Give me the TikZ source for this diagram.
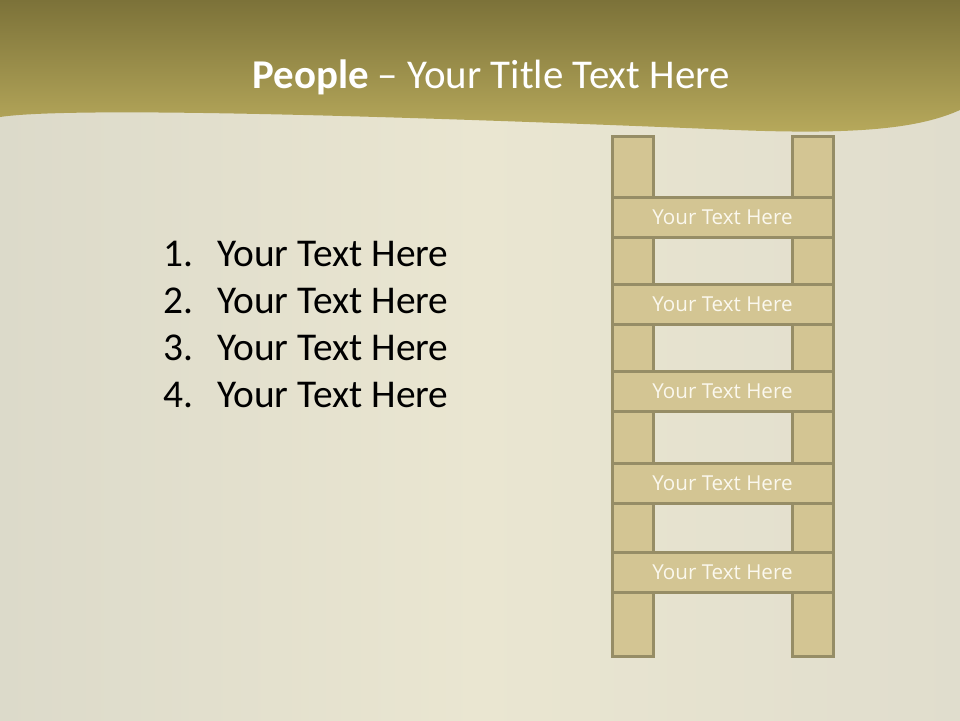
\documentclass[tikz,border=0pt]{standalone}
\usepackage{fontspec}
\setmainfont{Carlito}
\newfontfamily\rungfont{Open Sans}
\definecolor{bgmid}{HTML}{EAE6D1}
\definecolor{bgleft}{HTML}{DCDACA}
\definecolor{bgright}{HTML}{E0DDCD}
\definecolor{hdtop}{HTML}{7C7239}
\definecolor{hdbot}{HTML}{B8AA5C}
\definecolor{ladfill}{HTML}{D3C593}
\definecolor{ladline}{HTML}{968D66}
\definecolor{rungtext}{HTML}{FBF8EE}
\tikzset{
  rail/.style={draw=ladline, fill=ladfill, line width=3pt, minimum width=41pt, minimum height=520pt, inner sep=0pt},
  rung/.style={draw=ladline, fill=ladfill, line width=3pt, minimum width=221pt, minimum height=40pt, inner sep=0pt,
    text=rungtext, font=\rungfont\fontsize{20.6}{24}\selectfont},
  listnum/.style={anchor=base west, inner sep=0pt, font=\fontsize{39.4}{46}\selectfont},
  listtext/.style={anchor=base west, inner sep=0pt, font=\fontsize{39.4}{46}\selectfont},
}
\begin{document}
\begin{tikzpicture}[x=1pt,y=-1pt]
\useasboundingbox (0,0) rectangle (960,720);
\shade[left color=bgleft, right color=bgmid] (0,0) rectangle (480,720);
\shade[left color=bgmid, right color=bgright] (480,0) rectangle (960,720);
\shade[top color=hdtop, bottom color=hdbot]
  (0,0) -- (960,0) -- (960,110) .. controls (920,128) and (860,135) .. (735,130)
  .. controls (300,112) and (60,108) .. (0,117) -- cycle;
\node[anchor=base, text=white, inner sep=0pt, font=\fontsize{40.9}{48}\selectfont] (title) at (491,88)
  {\textbf{People} – Your Title Text Here};
% ladder rails
\node[rail] (lrail) at (632.5,396) {};
\node[rail] (rrail) at (812.5,396) {};
% rungs
\node[rung] (r1) at (722.5,217) {Your Text Here};
\node[rung] (r2) at (722.5,304.5) {Your Text Here};
\node[rung] (r3) at (722.5,391) {Your Text Here};
\node[rung] (r4) at (722.5,483) {Your Text Here};
\node[rung] (r5) at (722.5,572) {Your Text Here};
% list
\node[listnum] (n1) at (163,266) {1.};
\node[listtext] (t1) at (217,266) {Your Text Here};
\node[listnum] (n2) at (163,313) {2.};
\node[listtext] (t2) at (217,313) {Your Text Here};
\node[listnum] (n3) at (163,360) {3.};
\node[listtext] (t3) at (217,360) {Your Text Here};
\node[listnum] (n4) at (163,407) {4.};
\node[listtext] (t4) at (217,407) {Your Text Here};
\end{tikzpicture}
\end{document}
